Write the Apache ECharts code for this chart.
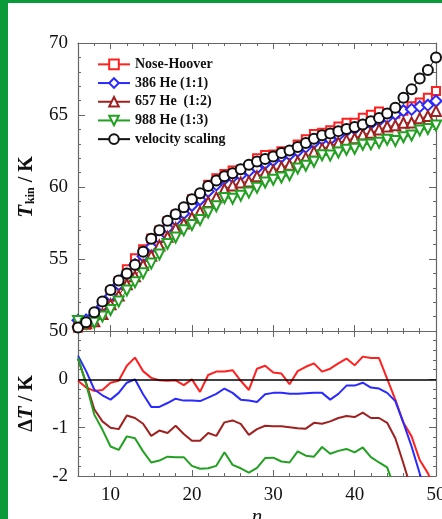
<!DOCTYPE html>
<html>
<head>
<meta charset="utf-8">
<script src="https://cdn.jsdelivr.net/npm/echarts@6/dist/echarts.min.js"></script>
<style>
  html, body { margin: 0; padding: 0; background: #fff; }
  #chart { width: 442px; height: 519px; }
</style>
</head>
<body>
<div id="chart"></div>
<script>
// n (x values, same for every series)
const nVals = [6, 7, 8, 9, 10, 11, 12, 13, 14, 15, 16, 17, 18, 19, 20, 21, 22, 23, 24, 25, 26, 27,
  28, 29, 30, 31, 32, 33, 34, 35, 36, 37, 38, 39, 40, 41, 42, 43, 44, 45, 46, 47, 48, 49, 50]

// upper panel, T_kin / K
const tNoseHoover = [50.22, 50.43, 51.06, 51.83, 52.78, 53.47, 54.28, 55.05, 55.67, 56.43, 56.98, 57.62,
  58.08, 58.48, 59.15, 59.30, 60.16, 60.61, 60.91, 61.15, 61.21, 61.32, 61.99, 62.22, 62.26, 62.48,
  62.44, 62.95, 63.32, 63.68, 63.76, 63.94, 64.21, 64.46, 64.46, 64.81, 65.01, 65.24, 65.11, 65.08,
  65.30, 65.60, 65.86, 66.19, 66.67]
const tHe386 = [50.74, 50.77, 51.09, 51.72, 52.43, 53.22, 53.93, 54.60, 55.19, 55.83, 56.43, 57.16,
  57.70, 58.16, 58.71, 59.11, 59.69, 60.15, 60.56, 60.68, 60.82, 61.10, 61.30, 61.63, 61.84, 62.08,
  62.24, 62.48, 62.77, 63.07, 63.32, 63.30, 63.58, 63.90, 64.04, 64.27, 64.40, 64.61, 64.82, 65.05,
  65.30, 65.39, 65.58, 65.68, 65.97]
const tHe657 = [50.67, 50.53, 50.68, 51.18, 51.85, 52.47, 53.25, 53.80, 54.58, 55.23, 55.94, 56.54,
  57.14, 57.47, 57.88, 58.29, 58.96, 59.28, 59.86, 60.11, 60.32, 60.39, 60.74, 60.98, 61.15, 61.39,
  61.55, 61.77, 62.04, 62.45, 62.68, 62.85, 63.08, 63.27, 63.39, 63.65, 63.77, 64.00, 64.20, 64.28,
  64.46, 64.48, 64.78, 64.93, 65.27]
const tHe988 = [50.70, 50.50, 50.57, 51.01, 51.46, 52.04, 52.82, 53.38, 54.01, 54.68, 55.32, 56.05,
  56.49, 56.99, 57.36, 57.71, 58.23, 58.66, 59.24, 59.19, 59.40, 59.61, 59.94, 60.31, 60.50, 60.66,
  60.82, 61.29, 61.48, 61.75, 62.20, 62.18, 62.40, 62.59, 62.66, 62.93, 62.96, 63.08, 63.28, 63.20,
  63.45, 63.58, 63.93, 64.03, 64.27]
const tVelScaling = [50.25, 50.60, 51.30, 52.05, 52.85, 53.50, 54.00, 54.60, 55.50, 56.40, 57.00, 57.65,
  58.10, 58.60, 59.15, 59.56, 60.07, 60.45, 60.75, 60.96, 61.24, 61.54, 61.77, 61.94, 62.12, 62.36,
  62.54, 62.78, 63.06, 63.35, 63.60, 63.72, 63.88, 64.03, 64.17, 64.34, 64.57, 64.80, 65.10, 65.50,
  66.20, 66.78, 67.53, 68.13, 69.00]

// lower panel, ΔT / K
const dNoseHoover = [-0.03, -0.17, -0.24, -0.22, -0.07, -0.03, 0.28, 0.45, 0.17, 0.03, -0.02, -0.03,
  -0.02, -0.12, 0.0, -0.26, 0.09, 0.16, 0.16, 0.19, -0.03, -0.22, 0.22, 0.28, 0.14, 0.12, -0.10, 0.17,
  0.26, 0.33, 0.16, 0.22, 0.33, 0.43, 0.29, 0.47, 0.44, 0.44, 0.01, -0.42, -0.90, -1.18, -1.67, -1.94, -2.33]
const dHe386 = [0.49, 0.17, -0.21, -0.33, -0.42, -0.28, -0.07, 0.0, -0.31, -0.57, -0.57, -0.49, -0.40,
  -0.44, -0.44, -0.45, -0.38, -0.30, -0.19, -0.28, -0.42, -0.44, -0.47, -0.31, -0.28, -0.28, -0.30,
  -0.30, -0.29, -0.28, -0.28, -0.42, -0.30, -0.13, -0.13, -0.07, -0.17, -0.19, -0.28, -0.45, -0.90,
  -1.39, -1.95, -2.45, -3.03]
const dHe657 = [0.42, -0.07, -0.62, -0.87, -1.00, -1.03, -0.75, -0.80, -0.92, -1.17, -1.06, -1.11, -0.96,
  -1.13, -1.27, -1.27, -1.11, -1.17, -0.89, -0.85, -0.92, -1.15, -1.03, -0.96, -0.97, -0.97, -0.99,
  -1.01, -1.02, -0.90, -0.92, -0.87, -0.80, -0.76, -0.78, -0.69, -0.80, -0.80, -0.90, -1.22, -1.74,
  -2.30, -2.75, -3.20, -3.73]
const dHe988 = [0.45, -0.10, -0.73, -1.04, -1.39, -1.46, -1.18, -1.22, -1.49, -1.72, -1.68, -1.60, -1.61,
  -1.61, -1.79, -1.85, -1.84, -1.79, -1.51, -1.77, -1.84, -1.93, -1.83, -1.63, -1.62, -1.70, -1.72,
  -1.49, -1.58, -1.60, -1.40, -1.54, -1.48, -1.44, -1.51, -1.41, -1.61, -1.72, -1.82, -2.30, -2.75,
  -3.20, -3.60, -4.10, -4.73]

const names = ['Nose-Hoover', '386 He (1:1)', '657 He  (1:2)', '988 He (1:3)', 'velocity scaling']
const majorTicksX = [10, 20, 30, 40, 50]

const serif = '"Liberation Serif", "DejaVu Serif", serif'
const frame = '#666'
const cRed = '#ff2020'
const cBlue = '#2a2aff'
const cDark = '#a02020'
const cGreen = '#22a022'

const chart = echarts.init(document.getElementById('chart'))

function pairs (ys) {
  return nVals.map((n, i) => [n, ys[i]])
}

// x axes: one with every tick (2 apart), one with the longer ticks at 10, 20 ...
function xAxes (grid, withLabels) {
  const base = { type: 'value', gridIndex: grid, min: 6, max: 50, interval: 2, splitLine: { show: false } }
  const minor = (pos) => Object.assign({}, base, {
    position: pos,
    axisLine: { show: true, onZero: false, lineStyle: { color: frame, width: 1.2 } },
    axisTick: { show: true, inside: true, length: 3, lineStyle: { color: frame } },
    axisLabel: { show: false }
  })
  const major = (pos) => Object.assign({}, base, {
    position: pos,
    axisLine: { show: false, onZero: false },
    axisTick: { show: true, inside: true, length: 6, customValues: majorTicksX, lineStyle: { color: frame } },
    axisLabel: { show: false }
  })
  const bottom = minor('bottom')
  if (withLabels) {
    bottom.axisLabel = {
      show: true,
      customValues: majorTicksX,
      margin: 10,
      fontFamily: serif,
      fontSize: 19,
      color: '#111'
    }
    bottom.name = 'n'
    bottom.nameLocation = 'middle'
    bottom.nameGap = 31
    bottom.nameTextStyle = { fontFamily: serif, fontStyle: 'italic', fontSize: 21, color: '#111' }
  }
  return [bottom, minor('top'), major('bottom'), major('top')]
}

function yAxes (grid, min, max, interval, labelFmt, name) {
  const common = {
    type: 'value',
    gridIndex: grid,
    min: min,
    max: max,
    interval: interval,
    splitLine: { show: false },
    axisLine: { show: true, onZero: false, lineStyle: { color: frame, width: 1.2 } },
    axisTick: { show: true, inside: true, length: 7, lineStyle: { color: frame } },
    minorTick: { show: true, splitNumber: 5, length: 3, lineStyle: { color: frame } }
  }
  const left = Object.assign({}, common, {
    position: 'left',
    axisLabel: { show: true, margin: 10, fontFamily: serif, fontSize: 19, color: '#111', formatter: labelFmt },
    name: name,
    nameLocation: 'middle',
    nameGap: 41,
    nameRotate: 90,
    nameTextStyle: {
      color: '#111',
      rich: {
        it: { fontFamily: serif, fontStyle: 'italic', fontWeight: 'bold', fontSize: 21, color: '#111' },
        sub: { fontFamily: serif, fontWeight: 'bold', fontSize: 12, color: '#111', padding: [9, 0, 0, 1] },
        b: { fontFamily: serif, fontWeight: 'bold', fontSize: 20, color: '#111' }
      }
    }
  })
  const right = Object.assign({}, common, { position: 'right', axisLabel: { show: false } })
  return [left, right]
}

function topSeries (name, ys, color, symbol, size, rotate, bw) {
  return {
    name: name,
    type: 'line',
    xAxisIndex: 0,
    yAxisIndex: 0,
    data: pairs(ys),
    symbol: symbol,
    symbolSize: size,
    symbolRotate: rotate,
    showAllSymbol: true,
    lineStyle: { color: color, width: 1 },
    itemStyle: { color: color, borderColor: color, borderWidth: bw },
    emphasis: { disabled: true },
    animation: false
  }
}

function lowSeries (name, ys, color) {
  return {
    name: name,
    type: 'line',
    xAxisIndex: 4,
    yAxisIndex: 2,
    data: pairs(ys),
    showSymbol: false,
    symbol: 'none',
    clip: true,
    lineStyle: { color: color, width: 2 },
    itemStyle: { color: color },
    emphasis: { disabled: true },
    animation: false
  }
}

const low = [
  lowSeries('dNH', dNoseHoover, cRed),
  lowSeries('d386', dHe386, cBlue),
  lowSeries('d657', dHe657, cDark),
  lowSeries('d988', dHe988, cGreen)
]
// black zero line (velocity scaling reference)
low[0].markLine = {
  silent: true,
  symbol: 'none',
  label: { show: false },
  lineStyle: { color: '#000', width: 1.6, type: 'solid' },
  data: [{ yAxis: 0 }],
  animation: false
}

const option = {
  backgroundColor: '#fff',
  animation: false,
  grid: [
    { left: 78, top: 43, width: 358, height: 288, outerBoundsMode: 'none', containLabel: false },
    { left: 78, top: 331, width: 358, height: 145, outerBoundsMode: 'none', containLabel: false }
  ],
  legend: {
    data: names,
    orient: 'vertical',
    left: 92,
    top: 50,
    itemWidth: 32,
    itemHeight: 12,
    itemGap: 0,
    selectedMode: false,
    textStyle: { fontFamily: serif, fontWeight: 'bold', fontSize: 14, lineHeight: 18.7, color: '#111' }
  },
  xAxis: xAxes(0, false).concat(xAxes(1, true)),
  yAxis: yAxes(0, 50, 70, 5, null, '{it|T}{sub|kin}{b| / K}')
    .concat(yAxes(1, -2, 1, 1, (v) => (v === 1 ? '' : String(v)), '{b|Δ}{it|T}{b| / K}')),
  series: [
    topSeries(names[0], tNoseHoover, cRed, 'emptyRect', 8, 0, 1),
    topSeries(names[1], tHe386, cBlue, 'emptyDiamond', 11, 0, 1),
    topSeries(names[2], tHe657, cDark, 'emptyTriangle', 10, 0, 1),
    topSeries(names[3], tHe988, cGreen, 'emptyTriangle', 10, 180, 1),
    topSeries(names[4], tVelScaling, '#111', 'emptyCircle', 10, 0, 1.4)
  ].concat(low),
  graphic: [
    { type: 'rect', left: 0, top: 0, shape: { width: 8, height: 519 }, style: { fill: '#0a9a3a' }, silent: true },
    { type: 'rect', left: 0, top: 0, shape: { width: 442, height: 3 }, style: { fill: '#0a9a3a' }, silent: true }
  ]
}

chart.setOption(option)
</script>
</body>
</html>
